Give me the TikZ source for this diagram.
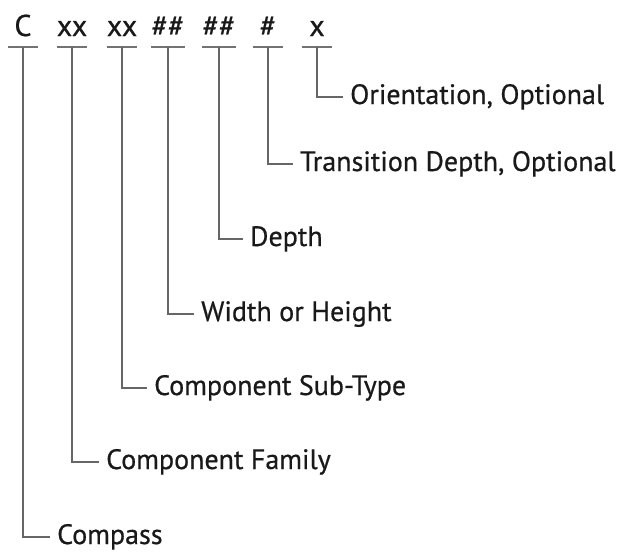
\documentclass[tikz,border=0pt]{standalone}
\usepackage{fontspec}
\setmainfont[FakeBold=0.6]{PT Sans}
\begin{document}
\begin{tikzpicture}[x=1pt,y=1pt,
  sym/.style={inner sep=0pt, minimum width=30pt, text height=18pt, text depth=4pt, anchor=base, font=\fontsize{30}{34}\selectfont, text=black!90},
  lab/.style={inner sep=0pt, text height=18pt, text depth=4pt, anchor=west, font=\fontsize{28}{32}\selectfont, text=black!90},
  conn/.style={draw=black!60, line width=1.5pt},
  uline/.style={draw=black!55, line width=1.5pt}]
\useasboundingbox (0,0) rectangle (621,-552);
% top symbols
\node[sym] (s1) at (23,-36) {C};
\node[sym] (s2) at (72,-36) {xx};
\node[sym] (s3) at (122,-36) {xx};
\node[sym] (s4) at (168,-36) {\#\#};
\node[sym] (s5) at (219,-36) {\#\#};
\node[sym] (s6) at (268,-36) {\#};
\node[sym] (s7) at (317,-36) {x};
\foreach \i in {1,...,7}{
  \draw[uline] ([yshift=-7pt]s\i.south west) -- ([yshift=-7pt]s\i.south east);
  \coordinate (u\i) at ([yshift=-7pt]s\i.south);
}
% labels
\node[lab] (l7) at (350,-97) {Orientation, Optional};
\node[lab] (l6) at (300,-164) {Transition Depth, Optional};
\node[lab] (l5) at (250,-239) {Depth};
\node[lab] (l4) at (201,-314) {Width or Height};
\node[lab] (l3) at (154,-388) {Component Sub-Type};
\node[lab] (l2) at (106,-462) {Component Family};
\node[lab] (l1) at (57,-537) {Compass};
\foreach \i in {1,...,7}{
  \draw[conn] (u\i) |- ([xshift=-7pt]l\i.west);
}
\end{tikzpicture}
\end{document}
